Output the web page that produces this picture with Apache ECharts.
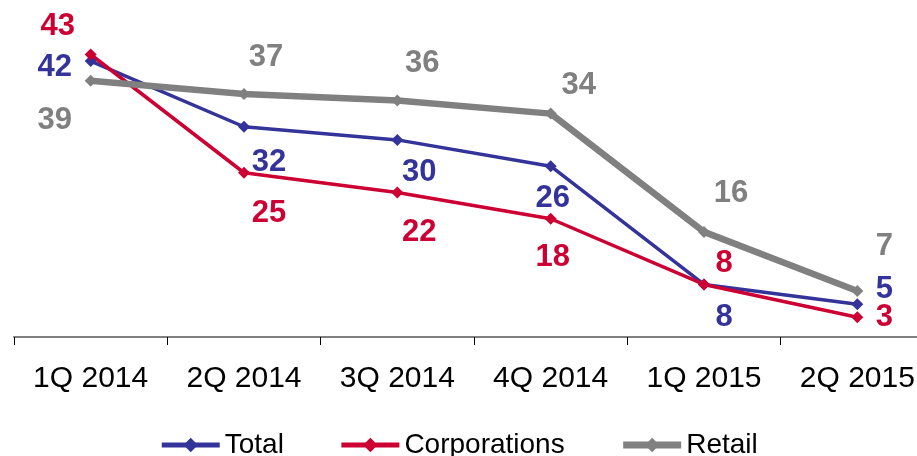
<!DOCTYPE html>
<html>
<head>
<meta charset="utf-8">
<script src="https://cdn.jsdelivr.net/npm/echarts@6/dist/echarts.min.js"></script>
<style>
html,body{margin:0;padding:0;background:#fff;}
#c{width:917px;height:456px;}
</style>
</head>
<body>
<div id="c"></div>
<script>
const categories = ['1Q 2014', '2Q 2014', '3Q 2014', '4Q 2014', '1Q 2015', '2Q 2015'];
const totalValues = [42, 32, 30, 26, 8, 5];
const corporationsValues = [43, 25, 22, 18, 8, 3];
const retailValues = [39, 37, 36, 34, 16, 7];

// label offsets (pixels) relative to each point
const totalLabelOffsets = [[-36, 6], [25, 36], [22, 33], [2, 32], [20, 33], [27, -15]];
const corpLabelOffsets = [[-33, -28], [25, 41], [22, 40], [2, 39], [20, -21], [27, 0]];
const retailLabelOffsets = [[-36, 40], [22, -36], [25, -37], [28, -28], [27, -38], [27, -45]];

const FONT = '"Liberation Sans", Arial, sans-serif';
const COLORS = { Total: '#333399', Corporations: '#CC0033', Retail: '#808080' };
const WIDTHS = { Total: 3.5, Corporations: 3.5, Retail: 6.5 };
const LEGEND_WIDTHS = { Total: 5, Corporations: 5, Retail: 7 };

function mk(name, values, offsets) {
  const color = COLORS[name];
  return {
    name: name,
    type: 'line',
    symbol: 'diamond',
    symbolSize: 12,
    lineStyle: { color: color, width: WIDTHS[name] },
    itemStyle: { color: color },
    data: values.map((v, i) => ({
      value: v,
      label: { offset: offsets[i] }
    })),
    label: {
      show: true,
      position: 'inside',
      color: color,
      fontFamily: FONT,
      fontSize: 31,
      fontWeight: 'bold',
      align: 'center',
      verticalAlign: 'middle'
    },
    emphasis: { disabled: true },
    animation: false
  };
}

const chart = echarts.init(document.getElementById('c'), null, { renderer: 'canvas' });
chart.setOption({
  animation: false,
  backgroundColor: '#ffffff',
  grid: { left: 14, top: 8.5, width: 920, height: 328.5, containLabel: false, outerBoundsMode: 'none' },
  legend: {
    left: 'center',
    top: 426,
    itemWidth: 58,
    itemHeight: 18,
    itemGap: 55,
    textStyle: { fontFamily: FONT, fontSize: 28, color: '#000' },
    data: ['Total', 'Corporations', 'Retail'].map(n => ({
      name: n,
      lineStyle: { width: LEGEND_WIDTHS[n], color: COLORS[n] },
      itemStyle: { color: COLORS[n] }
    }))
  },
  xAxis: {
    type: 'category',
    data: categories,
    boundaryGap: true,
    axisLine: { lineStyle: { color: '#808080', width: 2 } },
    axisTick: { show: true, length: 8, lineStyle: { color: '#000', width: 1 } },
    axisLabel: { fontFamily: FONT, fontSize: 30, color: '#000', margin: 27 }
  },
  yAxis: {
    type: 'value',
    min: 0,
    max: 50,
    show: false,
    splitLine: { show: false }
  },
  series: [
    mk('Total', totalValues, totalLabelOffsets),
    mk('Corporations', corporationsValues, corpLabelOffsets),
    mk('Retail', retailValues, retailLabelOffsets)
  ]
});
</script>
</body>
</html>
